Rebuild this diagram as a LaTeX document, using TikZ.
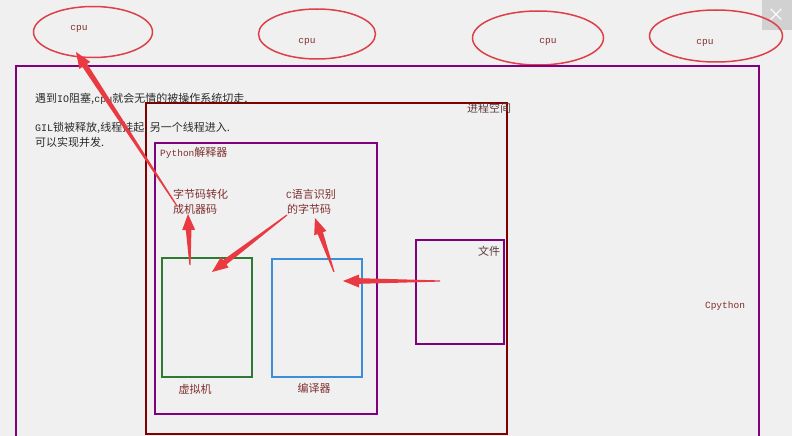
\documentclass[tikz,border=0pt]{standalone}
\usepackage{fontspec}
\setmainfont{Noto Sans CJK SC}
\newfontfamily\lat{Liberation Mono}
\usetikzlibrary{calc,shapes.geometric}
\definecolor{bgc}{HTML}{F0F0F0}
\definecolor{ellred}{HTML}{DD4048}
\definecolor{arrred}{HTML}{E83A40}
\definecolor{boxpurple}{HTML}{800080}
\definecolor{boxdred}{HTML}{800000}
\definecolor{boxgreen}{HTML}{2F7A32}
\definecolor{boxblue}{HTML}{3C8ED8}
\definecolor{lblred}{HTML}{7F2F2F}
\definecolor{lbldark}{HTML}{2B2B2B}
\definecolor{lblgrey}{HTML}{5A3A3A}
\newcommand\tarrow[2]{%
  \path ($(#2)!16pt!(#1)$) coordinate (hb);
  \fill[arrred] ($(#1)!0.6pt!90:(#2)$) -- ($(hb)!2.8pt!90:(#2)$) -- ($(hb)!6.5pt!90:(#2)$) -- (#2)
    -- ($(hb)!6.5pt!-90:(#2)$) -- ($(hb)!2.8pt!-90:(#2)$) -- ($(#1)!0.6pt!-90:(#2)$) -- cycle;}
\begin{document}
\begin{tikzpicture}[x=1pt,y=-1pt,
  cpuell/.style={ellipse,draw=ellred,line width=1.5pt,inner sep=0pt},
  boxn/.style={rectangle,line width=2pt,inner sep=0pt,anchor=north west},
  lbl/.style={inner sep=0pt,font=\fontsize{11}{13}\selectfont,text=lblred},
  latlbl/.style={inner sep=0pt,font=\lat\fontsize{9.5}{11}\selectfont,text=lblred},
  toptxt/.style={inner sep=0pt,anchor=west,font=\fontsize{11}{13}\selectfont,text=lbldark}]
\fill[bgc] (0,0) rectangle (792,436);
\useasboundingbox (0,0) rectangle (792,436);
\clip (0,0) rectangle (792,436);
% close button
\node[fill=black!18,minimum width=30pt,minimum height=30pt,inner sep=0pt,anchor=north east,text=white,font=\fontsize{18}{18}\selectfont] (closebtn) at (792,0) {×};
% cpu ellipses
\node[cpuell,minimum width=119pt,minimum height=51pt] (cpu1) at (93,32) {};
\node[cpuell,minimum width=117pt,minimum height=50pt] (cpu2) at (317,34) {};
\node[cpuell,minimum width=131pt,minimum height=54pt] (cpu3) at (538,38) {};
\node[cpuell,minimum width=133pt,minimum height=52pt] (cpu4) at (716,36) {};
\node[latlbl] (cpu1t) at (79,29) {cpu};
\node[latlbl] (cpu2t) at (307,42) {cpu};
\node[latlbl] (cpu3t) at (548,42) {cpu};
\node[latlbl] (cpu4t) at (705,43) {cpu};
% boxes
\node[boxn,draw=boxpurple,minimum width=743pt,minimum height=400pt] (cpython) at (15,65) {};
\node[boxn,draw=boxdred,minimum width=361pt,minimum height=331pt] (proc) at (145,102) {};
\node[boxn,draw=boxpurple,minimum width=222pt,minimum height=271pt] (interp) at (154,142) {};
\node[boxn,draw=boxgreen,minimum width=90pt,minimum height=119pt] (vm) at (161,257) {};
\node[boxn,draw=boxblue,minimum width=90pt,minimum height=118pt] (comp) at (271,258) {};
\node[boxn,draw=boxpurple,minimum width=88pt,minimum height=104pt] (file) at (415,239) {};
% texts
\node[toptxt] (t1) at (35,99) {遇到{\lat\fontsize{10}{12}\selectfont IO}阻塞,{\lat\fontsize{10}{12}\selectfont cpu}就会无情的被操作系统切走,};
\node[toptxt] (t2) at (35,128) {{\lat\fontsize{10}{12}\selectfont GIL}锁被释放,线程挂起, 另一个线程进入.};
\node[toptxt] (t3) at (35,142) {可以实现并发.};
\node[lbl,anchor=west,text=lblgrey] (proct) at (467,108) {进程空间};
\node[lbl,anchor=west] (interpt) at (160,153) {{\lat\fontsize{9.5}{11}\selectfont Python}解释器};
\node[lbl,anchor=west] (bc1) at (173,194) {字节码转化};
\node[lbl,anchor=west] (bc2) at (173,209) {成机器码};
\node[lbl,anchor=west] (cc1) at (286,194) {{\lat\fontsize{9.5}{11}\selectfont C}语言识别};
\node[lbl,anchor=west] (cc2) at (287,209) {的字节码};
\node[lbl] (vmt) at (195,389) {虚拟机};
\node[lbl] (compt) at (314,388) {编译器};
\node[lbl,text=lblgrey] (filet) at (489,251) {文件};
\node[latlbl] (cpyt) at (725,306) {Cpython};
% arrow anchor points
\coordinate (a1s) at (190,265); \coordinate (a1e) at (188,214);
\coordinate (a2s) at (287,215); \coordinate (a2e) at (212,272);
\coordinate (a3s) at (334,272); \coordinate (a3e) at (315,218);
\coordinate (a4s) at (440,281); \coordinate (a4e) at (343,281);
\coordinate (a5s) at (177,206); \coordinate (a5e) at (76,52);
\tarrow{a1s}{a1e}
\tarrow{a2s}{a2e}
\tarrow{a3s}{a3e}
\tarrow{a4s}{a4e}
\tarrow{a5s}{a5e}
\end{tikzpicture}
\end{document}
